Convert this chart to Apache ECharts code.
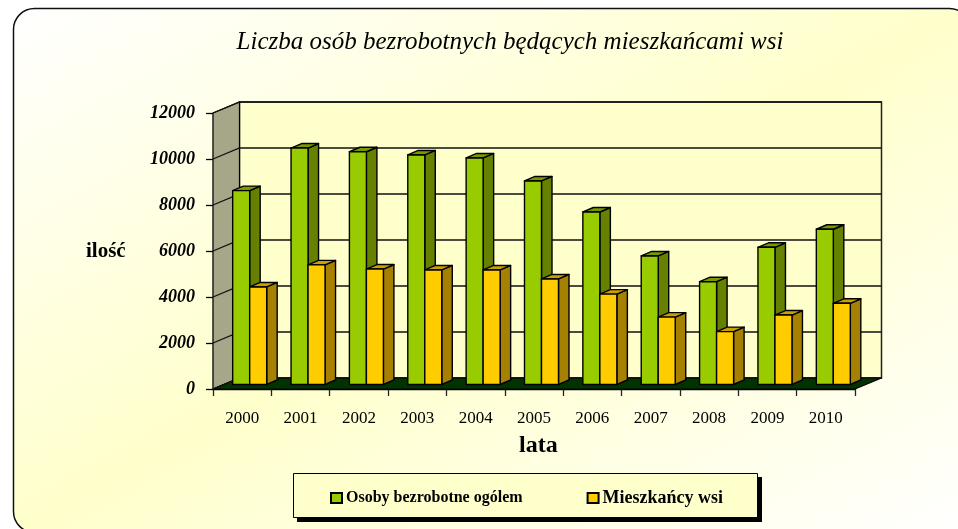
<!DOCTYPE html>
<html><head><meta charset="utf-8">
<style>html,body{margin:0;padding:0;background:#fff}#c{width:958px;height:529px}</style>
<script src="https://cdn.jsdelivr.net/npm/echarts@6/dist/echarts.min.js"></script>
</head><body><div id="c"></div>
<script>
var categories = ['2000','2001','2002','2003','2004','2005','2006','2007','2008','2009','2010'];
var totalUnemployed = [8430,10280,10120,9980,9850,8850,7500,5590,4470,5965,6750];
var ruralResidents = [4240,5200,5020,4980,4980,4590,3930,2930,2300,3020,3530];
var yTicks = [0,2000,4000,6000,8000,10000,12000];
var seriesNames = ['Osoby bezrobotne ogólem','Mieszkańcy wsi'];

var DEPTH_X = 26.5, DEPTH_Y = 11;
var BAR_W = 17, BAR_DX = 10.5, BAR_DY = 4.5, SHIFT_X = 7.5, SHIFT_Y = 4.5;
var SERIF = '"Liberation Serif","Times New Roman",serif';

function pairs(arr){ return arr.map(function(v,i){ return [i,v]; }); }

function renderWalls(params, api){
  var c = params.coordSys, x0=c.x, x1=c.x+c.width, yT=c.y, yB=c.y+c.height;
  var line = {stroke:'#000', lineWidth:1.2, lineJoin:'round'};
  return {type:'group', children:[
    {type:'rect', shape:{x:x0+DEPTH_X,y:yT-DEPTH_Y,width:c.width,height:c.height},
      style:{fill:'#ffffcc', stroke:'#222', lineWidth:1.5}},
    {type:'polygon', shape:{points:[[x0,yB],[x0,yT],[x0+DEPTH_X,yT-DEPTH_Y],[x0+DEPTH_X,yB-DEPTH_Y]]},
      style:Object.assign({fill:'#a6a688'},line)},
    {type:'polygon', shape:{points:[[x0,yB],[x1,yB],[x1+DEPTH_X,yB-DEPTH_Y],[x0+DEPTH_X,yB-DEPTH_Y]]},
      style:Object.assign({fill:'#003300'},line)}
  ]};
}
function renderGrid(params, api){
  var c = params.coordSys, y = api.coord([0, api.value(1)])[1], x0=c.x;
  return {type:'polyline', shape:{points:[[x0,y],[x0+DEPTH_X,y-DEPTH_Y],[x0+c.width+DEPTH_X,y-DEPTH_Y]]},
    style:{fill:null, stroke:'#111', lineWidth:1.3}};
}
function barRenderer(offset, front, side, top){
  return function(params, api){
    var p = api.coord([api.value(0), api.value(1)]);
    var b = api.coord([api.value(0), 0]);
    var xL = p[0]+SHIFT_X+offset, xR = xL+BAR_W;
    var yT = p[1]-SHIFT_Y, yB = b[1]-SHIFT_Y;
    var s = {stroke:'#000', lineWidth:1.4, lineJoin:'round'};
    return {type:'group', children:[
      {type:'polygon', shape:{points:[[xR,yT],[xR+BAR_DX,yT-BAR_DY],[xR+BAR_DX,yB-BAR_DY],[xR,yB]]}, style:Object.assign({fill:side},s)},
      {type:'polygon', shape:{points:[[xL,yT],[xL+BAR_DX,yT-BAR_DY],[xR+BAR_DX,yT-BAR_DY],[xR,yT]]}, style:Object.assign({fill:top},s)},
      {type:'rect', shape:{x:xL,y:yT,width:BAR_W,height:yB-yT}, style:Object.assign({fill:front},s)}
    ]};
  };
}

var chart = echarts.init(document.getElementById('c'), null, {renderer:'canvas'});

chart.setOption({
  animation:false,
  backgroundColor:'#ffffff',
  graphic:[
    {type:'rect', z:-10, silent:true,
     shape:{x:13.5,y:8.5,width:957,height:524,r:21},
     style:{stroke:'#111',lineWidth:1.5,
       fill:{type:'linear',global:true,x:13,y:8,x2:454,y2:814,
         colorStops:[{offset:0,color:'#ffffff'},{offset:0.5,color:'#ffffcc'},{offset:1,color:'#ffffff'}]}}},
    {type:'rect', z:-9, silent:true, shape:{x:297,y:477,width:465,height:45}, style:{fill:'#000'}},
    {type:'rect', z:-8, silent:true, shape:{x:293.5,y:473.5,width:464,height:44}, style:{fill:'#ffffcc',stroke:'#000',lineWidth:1}},
    {type:'text', left:86, top:241, z:5, style:{text:'ilość',font:'bold 21px '+SERIF,fill:'#000'}},
    {type:'text', left:519, top:434, z:5, style:{text:'lata',font:'bold 24px '+SERIF,fill:'#000'}}
  ],
  title:{text:'Liczba osób bezrobotnych będących mieszkańcami wsi', left:505, top:25, textAlign:'center',
    textStyle:{fontFamily:SERIF,fontStyle:'italic',fontWeight:'normal',fontSize:25,color:'#000'}},
  grid:{left:213,top:113,width:642,height:276,containLabel:false},
  xAxis:{type:'category',data:categories,
    axisLine:{show:true,lineStyle:{color:'#000',width:1.3}},
    axisTick:{show:true,length:7,lineStyle:{color:'#222',width:1.3}},
    axisLabel:{margin:21,fontFamily:SERIF,fontSize:17,color:'#000'},
    splitLine:{show:false}},
  yAxis:{type:'value',min:0,max:12000,interval:2000,
    axisLine:{show:true,lineStyle:{color:'#000',width:1.3}},
    axisTick:{show:true,length:7,lineStyle:{color:'#000',width:1.3}},
    axisLabel:{margin:18,fontFamily:SERIF,fontStyle:'italic',fontWeight:'bold',fontSize:18,color:'#000',
      formatter:function(v){return String(v);}},
    splitLine:{show:false}},
  legend:{show:true,left:293,top:475,orient:'horizontal',
    data:[{name:seriesNames[0]},{name:seriesNames[1],textStyle:{fontSize:18}}],
    icon:'rect',itemWidth:11,itemHeight:10,itemGap:64,
    padding:[14,30,14,37],
    textStyle:{fontFamily:SERIF,fontWeight:'bold',fontSize:16,color:'#000',padding:[0,0,0,-1]}},
  series:[
    {type:'custom',name:'walls',silent:true,z:1,renderItem:renderWalls,data:[[0,0]],clip:false},
    {type:'custom',name:'gridlines',silent:true,z:2,renderItem:renderGrid,data:yTicks.map(function(v){return [0,v];}),clip:false},
    {type:'custom',name:seriesNames[0],z:3,clip:false,
     itemStyle:{color:'#99cc00',borderColor:'#000',borderWidth:1},
     renderItem:barRenderer(-BAR_W,'#99cc00','#668000','#7a9900'),data:pairs(totalUnemployed),encode:{x:0,y:1}},
    {type:'custom',name:seriesNames[1],z:4,clip:false,
     itemStyle:{color:'#ffcc00',borderColor:'#000',borderWidth:1},
     renderItem:barRenderer(0,'#ffcc00','#a68000','#cc9f00'),data:pairs(ruralResidents),encode:{x:0,y:1}}
  ]
});
</script></body></html>
